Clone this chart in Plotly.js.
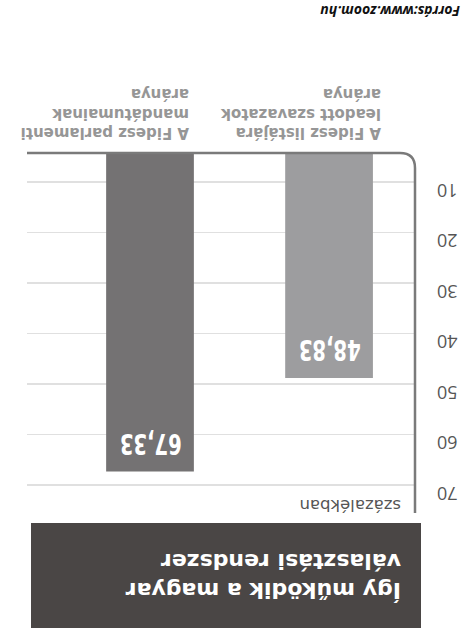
<!DOCTYPE html>
<html>
<head>
<meta charset="utf-8">
<script src="https://cdn.plot.ly/plotly-3.0.1.min.js"></script>
<style>
  html, body { margin: 0; padding: 0; background: #ffffff; }
  #wrap { width: 461px; height: 640px; transform: rotate(180deg); transform-origin: 50% 50%; }
  #chart { width: 461px; height: 640px; }
</style>
</head>
<body>
<div id="wrap"><div id="chart"></div></div>
<script>
// ---- data ----
const categories = [
  "A Fidesz listájára<br>leadott szavazatok<br>aránya",
  "A Fidesz parlamenti<br>mandátumainak<br>aránya"
];
const values = [48.83, 67.33];
const barColors = ["#9d9d9f", "#747273"];
const tickValues = [10, 20, 30, 40, 50, 60, 70];
const titleText = "Így működik a magyar<br>választási rendszer";
const unitText = "százalékban";
const sourceText = "Forrás:www.zoom.hu";

// ---- layout constants ----
const W = 461, H = 640;
const M = { l: 46, r: 27, t: 127, b: 153 };
const pw = W - M.l - M.r, ph = H - M.t - M.b;
const px = x => (x - M.l) / pw;          // pixel -> paper x
const py = y => (H - M.b - y) / ph;      // pixel -> paper y
const labelShift = [-54, -41];
const valueLabelWidth = 62;

const xcats = categories.map((c, i) => "c" + i);

const trace = {
  type: "bar",
  x: xcats,
  y: values,
  width: 0.49,
  marker: { color: barColors, line: { width: 0 } },
  hoverinfo: "none"
};

const annotations = [];
// value labels
values.forEach((v, i) => {
  annotations.push({
    x: xcats[i], y: v, xref: "x", yref: "y",
    text: v.toFixed(2).replace(".", ","),
    showarrow: false, xanchor: "center", yanchor: "top", yshift: -9,
    font: { family: "DejaVu Sans Condensed, DejaVu Sans, sans-serif", size: 29, color: "#ffffff", weight: "bold" }
  });
});
// category labels
categories.forEach((c, i) => {
  annotations.push({
    x: xcats[i], y: 0, xref: "x", yref: "paper",
    text: "<b>" + c + "</b>",
    showarrow: false, xanchor: "left", yanchor: "top", align: "left",
    xshift: labelShift[i], yshift: -9,
    font: { family: "DejaVu Sans, sans-serif", size: 15, color: "#969696" }
  });
});
// title
annotations.push({
  x: px(58), y: py(64), xref: "paper", yref: "paper",
  text: "<b>" + titleText + "</b>",
  showarrow: false, xanchor: "left", yanchor: "middle", align: "left",
  font: { family: "DejaVu Sans, sans-serif", size: 22, color: "#ffffff" }
});
// unit
annotations.push({
  x: px(58), y: py(134), xref: "paper", yref: "paper",
  text: unitText, showarrow: false, xanchor: "left", yanchor: "middle",
  font: { family: "DejaVu Sans, sans-serif", size: 16.5, color: "#555555" }
});
// source
annotations.push({
  x: px(-1), y: py(628), xref: "paper", yref: "paper",
  text: "<b><i>" + sourceText + "</i></b>", showarrow: false, xanchor: "left", yanchor: "middle",
  font: { family: "Open Sans, sans-serif", size: 14, color: "#111111" }
});

const rx = 15 / pw, ry = 15 / ph;
const shapes = [
  { type: "rect", xref: "paper", yref: "paper", layer: "below",
    x0: px(40), x1: px(430), y0: py(117), y1: py(12),
    fillcolor: "#4a4645", line: { width: 0 } },
  { type: "path", xref: "paper", yref: "paper", layer: "above",
    path: `M0,1 L0,${ry} Q0,0 ${rx},0 L1,0`,
    line: { color: "#7a7a7a", width: 2.5 } }
];

const layout = {
  width: W, height: H,
  margin: M,
  paper_bgcolor: "#ffffff", plot_bgcolor: "#ffffff",
  showlegend: false,
  xaxis: {
    type: "category", range: [-0.48, 1.687],
    showticklabels: false, showgrid: false, zeroline: false, showline: false, fixedrange: true
  },
  yaxis: {
    range: [4.26, 75.54], tickvals: tickValues, ticktext: tickValues.map(String),
    showgrid: true, gridcolor: "#e0e0e0", gridwidth: 1.5,
    zeroline: false, showline: false, ticks: "",
    ticklabelstandoff: 21, ticklabelshift: -8,
    tickfont: { family: "Open Sans, sans-serif", size: 18, color: "#555555" }
  },
  annotations: annotations,
  shapes: shapes
};

Plotly.newPlot("chart", [trace], layout, { displayModeBar: false, staticPlot: true }).then(gd => {
  // condense the value labels horizontally, like the narrow display face of the original
  gd.querySelectorAll(".annotation-text").forEach(t => {
    const s = t.textContent;
    if (/^\d+,\d+$/.test(s)) {
      t.setAttribute("textLength", valueLabelWidth);
      t.setAttribute("lengthAdjust", "spacingAndGlyphs");
    }
  });
});
</script>
</body>
</html>
